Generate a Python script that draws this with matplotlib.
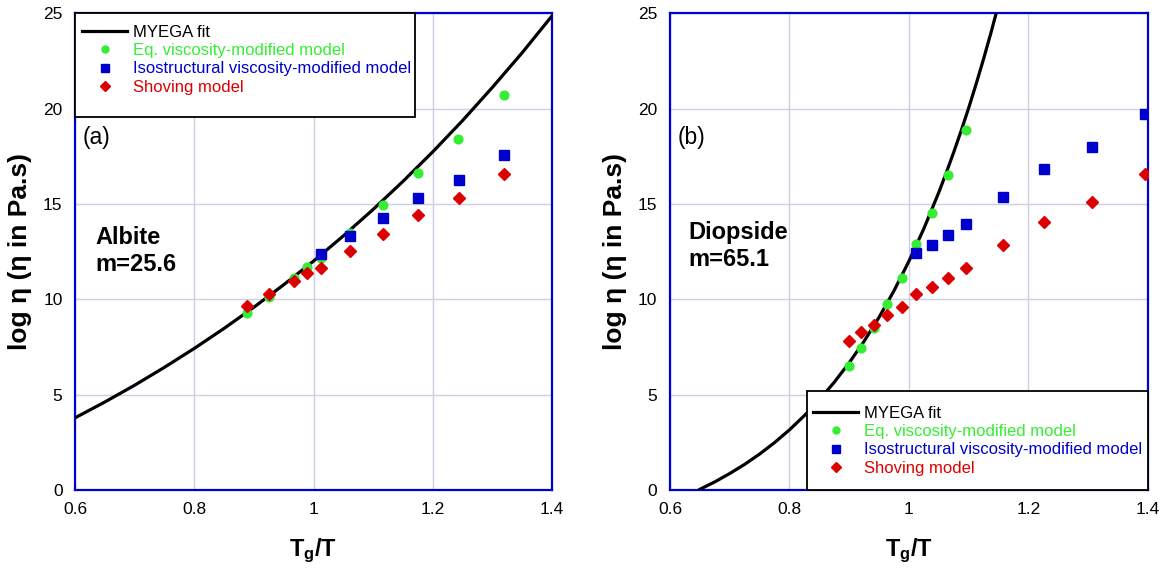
import matplotlib
matplotlib.use("Agg")
import matplotlib.pyplot as plt
from matplotlib import font_manager
from matplotlib.patches import Rectangle
from matplotlib.lines import Line2D

# --- data ---
# (a) Albite
a_fit_x = [0.60, 0.65, 0.70, 0.75, 0.80, 0.85, 0.90, 0.95, 1.00, 1.05, 1.10,
           1.15, 1.20, 1.25, 1.30, 1.35, 1.40]
a_fit_y = [3.78, 4.61, 5.49, 6.43, 7.42, 8.47, 9.58, 10.76, 12.0, 13.32, 14.71,
           16.18, 17.73, 19.37, 21.11, 22.93, 24.86]
a_eq_x = [0.888, 0.925, 0.968, 0.989, 1.013, 1.061, 1.116, 1.176, 1.243, 1.319]
a_eq_y = [9.26, 10.10, 11.13, 11.70, 12.14, 13.45, 14.94, 16.61, 18.38, 20.70]
a_iso_x = [1.013, 1.061, 1.116, 1.176, 1.244, 1.319]
a_iso_y = [12.37, 13.31, 14.26, 15.29, 16.25, 17.56]
a_shov_x = [0.888, 0.925, 0.968, 0.989, 1.013, 1.061, 1.116, 1.176, 1.244, 1.319]
a_shov_y = [9.66, 10.25, 10.97, 11.39, 11.62, 12.53, 13.42, 14.40, 15.30, 16.56]

# (b) Diopside
b_fit_x = [0.65, 0.675, 0.70, 0.725, 0.75, 0.775, 0.80, 0.825, 0.85, 0.875,
           0.90, 0.925, 0.95, 0.975, 1.00, 1.025, 1.05, 1.0625, 1.075, 1.0875,
           1.10, 1.1125, 1.125, 1.1375, 1.15]
b_fit_y = [0.03, 0.42, 0.86, 1.34, 1.88, 2.48, 3.15, 3.90, 4.73, 5.65,
           6.67, 7.80, 9.06, 10.45, 12.0, 13.71, 15.61, 16.64, 17.72, 18.85,
           20.04, 21.30, 22.62, 24.01, 25.47]
b_eq_x = [0.900, 0.920, 0.942, 0.964, 0.988, 1.012, 1.039, 1.066, 1.095]
b_eq_y = [6.50, 7.46, 8.47, 9.75, 11.09, 12.88, 14.50, 16.51, 18.87]
b_iso_x = [1.012, 1.039, 1.066, 1.095, 1.158, 1.226, 1.306, 1.395]
b_iso_y = [12.41, 12.84, 13.36, 13.94, 15.37, 16.82, 17.99, 19.70]
b_shov_x = [0.900, 0.920, 0.942, 0.964, 0.988, 1.012, 1.039, 1.066, 1.095,
            1.158, 1.226, 1.306, 1.395]
b_shov_y = [7.83, 8.30, 8.65, 9.17, 9.61, 10.29, 10.62, 11.09, 11.62,
            12.84, 14.06, 15.11, 16.55]

labels = ["MYEGA fit", "Eq. viscosity-modified model",
          "Isostructural viscosity-modified model", "Shoving model"]
x_ticks = [0.6, 0.8, 1.0, 1.2, 1.4]
x_ticklabels = ["0.6", "0.8", "1", "1.2", "1.4"]
y_ticks = [0, 5, 10, 15, 20, 25]

GREEN = "#33ee33"
BLUE = "#0000cc"
RED = "#dd0000"
GRID = "#cfcfe3"

plt.rcParams["font.family"] = "Liberation Sans"
plt.rcParams["mathtext.fontset"] = "custom"
plt.rcParams["mathtext.rm"] = "Liberation Sans"
plt.rcParams["mathtext.bf"] = "Liberation Sans:bold"

names = {f.name for f in font_manager.fontManager.ttflist}
tick_family = "Liberation Sans Narrow" if "Liberation Sans Narrow" in names else "Liberation Sans"

fig = plt.figure(figsize=(11.67, 5.75), dpi=100)


def panel(rect, fx, fy, ex, ey, ix, iy, sx, sy, tag, name, m, name_xy,
          leg_box, leg_anchor):
    ax = fig.add_axes(rect)
    ax.plot(fx, fy, color="black", lw=2.3, zorder=3)
    ax.plot(ex, ey, "o", color=GREEN, ms=6.3, mec=GREEN, zorder=4)
    ax.plot(ix, iy, "s", color=BLUE, ms=7, mec=BLUE, zorder=4)
    ax.plot(sx, sy, "D", color=RED, ms=6.3, mec=RED, zorder=4)
    ax.set_xlim(0.6, 1.4)
    ax.set_ylim(0, 25)
    ax.set_xticks(x_ticks)
    ax.set_xticklabels(x_ticklabels)
    ax.set_yticks(y_ticks)
    ax.tick_params(length=0, labelsize=12.5, pad=9)
    for lab in ax.get_xticklabels() + ax.get_yticklabels():
        lab.set_family(tick_family)
    ax.grid(True, color=GRID, lw=1)
    ax.set_axisbelow(True)
    for sp in ax.spines.values():
        sp.set_color(BLUE)
        sp.set_linewidth(1.6)
    ax.set_xlabel(r"$\mathbf{T_g/T}$", fontsize=17, labelpad=14)
    ax.set_ylabel("log η (η in Pa.s)", fontsize=19, fontweight="bold", labelpad=8)
    ax.text(0.612, 18.5, tag, fontsize=16.5, va="center")
    ax.text(name_xy[0], name_xy[1], name + "\nm=" + m, fontsize=17, fontweight="bold",
            va="center", linespacing=1.2)

    x0, y0, w, h = leg_box
    ax.add_patch(Rectangle((x0, y0), w, h, transform=ax.transAxes, facecolor="white",
                           edgecolor="black", lw=1.3, zorder=6, clip_on=False))
    handles = [
        Line2D([], [], color="black", lw=2.3),
        Line2D([], [], ls="none", marker="o", color=GREEN, ms=5),
        Line2D([], [], ls="none", marker="s", color=BLUE, ms=5.5),
        Line2D([], [], ls="none", marker="D", color=RED, ms=5),
    ]
    leg = ax.legend(handles, labels, loc="upper left", bbox_to_anchor=leg_anchor,
                    frameon=False, fontsize=12, handlelength=2.7, handletextpad=0.35,
                    labelspacing=0.19, borderpad=0, borderaxespad=0,
                    labelcolor=["black", GREEN, BLUE, RED])
    leg.set_zorder(7)
    return ax


panel([0.0643, 0.148, 0.4087, 0.829], a_fit_x, a_fit_y, a_eq_x, a_eq_y,
      a_iso_x, a_iso_y, a_shov_x, a_shov_y, "(a)", "Albite", "25.6", (0.634, 12.54),
      (0.0, 0.783, 0.713, 0.217), (0.015, 0.975))
panel([0.5741, 0.148, 0.4096, 0.829], b_fit_x, b_fit_y, b_eq_x, b_eq_y,
      b_iso_x, b_iso_y, b_shov_x, b_shov_y, "(b)", "Diopside", "65.1", (0.630, 12.8),
      (0.286, 0.0, 0.714, 0.2075), (0.30, 0.176))

fig.savefig("out.png", dpi=100)
